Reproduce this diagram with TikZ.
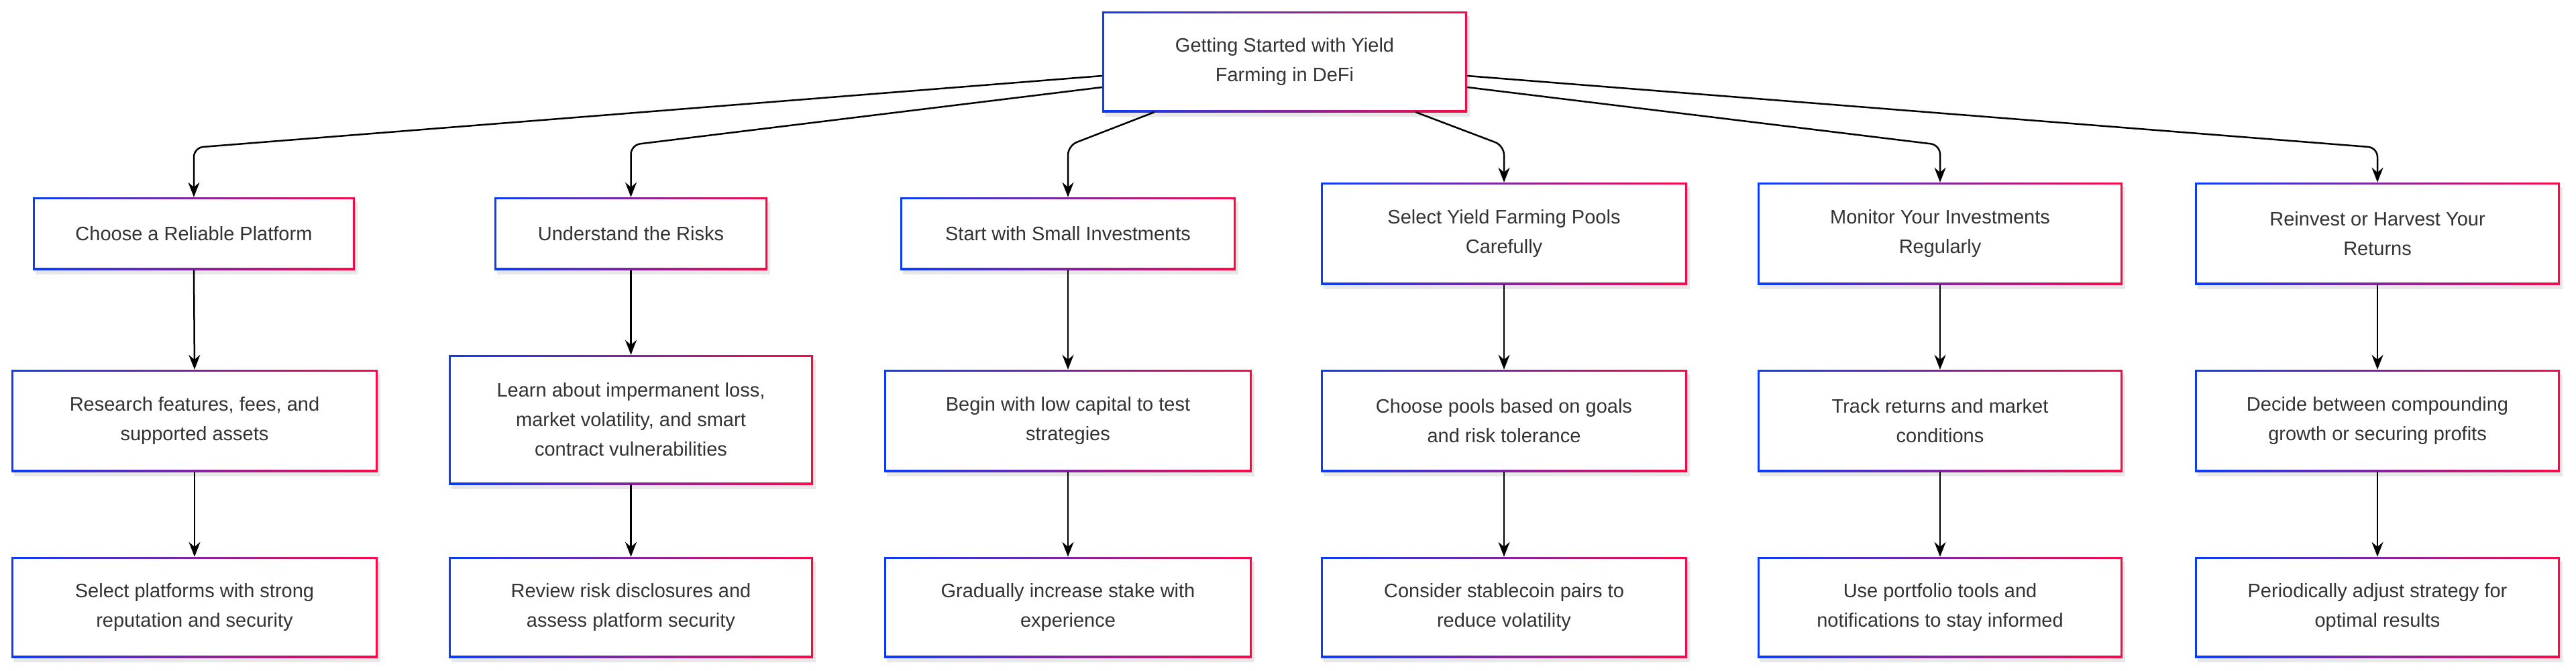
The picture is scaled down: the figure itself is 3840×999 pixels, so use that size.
\documentclass[tikz,border=0pt]{standalone}
\usepackage{fontspec}
\setmainfont{Liberation Sans}
\usetikzlibrary{arrows.meta}
\definecolor{gblue}{RGB}{10,60,250}
\definecolor{gred}{RGB}{250,10,70}
\definecolor{txtc}{RGB}{51,51,51}
\tikzset{
  txt/.style={inner sep=0pt, align=center, text=txtc, font=\fontsize{29}{44}\selectfont},
  arr/.style={line width=2.5pt, draw=black, rounded corners=14pt, -{Stealth[length=22pt,width=17pt]}},
}
\newcommand\gbox[6]{%
  \fill[black!9] ({#2+4},{#3+7}) rectangle ({#4+4},{#5+7});
  \shade[left color=gblue,right color=gred] ({#2},{#3}) rectangle ({#4},{#5});
  \fill[white] ({#2+2.7},{#3+2.7}) rectangle ({#4-2.7},{#5-2.7});
  \node[txt, minimum width={(#4)-(#2)}, minimum height={(#5)-(#3)}] (#1) at ({(#2+#4)/2},{(#3+#5)/2}) {#6};}
\begin{document}
\begin{tikzpicture}[x=1pt,y=-1pt]
\useasboundingbox[fill=white] (0,0) rectangle (3840,999);
\gbox{top}{1643}{17}{2187}{167}{Getting Started with Yield\\Farming in DeFi}
% row 1
\gbox{a1}{49}{294}{529}{402}{Choose a Reliable Platform}
\gbox{b1}{737}{294}{1144}{402}{Understand the Risks}
\gbox{c1}{1342}{294}{1842}{402}{Start with Small Investments}
\gbox{d1}{1969}{272}{2515}{424}{Select Yield Farming Pools\\Carefully}
\gbox{e1}{2620}{272}{3164}{424}{Monitor Your Investments\\Regularly}
\gbox{f1}{3272}{272}{3816}{424}{Reinvest or Harvest Your\\Returns}
% row 2
\gbox{a2}{17}{551}{563}{703}{Research features, fees, and\\supported assets}
\gbox{b2}{669}{529}{1212}{722}{Learn about impermanent loss,\\market volatility, and smart\\contract vulnerabilities}
\gbox{c2}{1318}{551}{1866}{703}{Begin with low capital to test\\strategies}
\gbox{d2}{1969}{551}{2515}{703}{Choose pools based on goals\\and risk tolerance}
\gbox{e2}{2620}{551}{3164}{703}{Track returns and market\\conditions}
\gbox{f2}{3272}{551}{3816}{703}{Decide between compounding\\growth or securing profits}
% row 3
\gbox{a3}{17}{830}{563}{980}{Select platforms with strong\\reputation and security}
\gbox{b3}{669}{830}{1212}{980}{Review risk disclosures and\\assess platform security}
\gbox{c3}{1318}{830}{1866}{980}{Gradually increase stake with\\experience}
\gbox{d3}{1969}{830}{2515}{980}{Consider stablecoin pairs to\\reduce volatility}
\gbox{e3}{2620}{830}{3164}{980}{Use portfolio tools and\\notifications to stay informed}
\gbox{f3}{3272}{830}{3816}{980}{Periodically adjust strategy for\\optimal results}
% start points
\coordinate (s1) at (1643,113);
\coordinate (s2) at (1643,130);
\coordinate (s3) at (1721,167);
\coordinate (s4) at (2110,167);
\coordinate (s5) at (2187,130);
\coordinate (s6) at (2187,113);
\draw[arr] (s1) -- (a1.north |- 0,220) -- (a1.north);
\draw[arr] (s2) -- (b1.north |- 0,216) -- (b1.north);
\draw[arr] (s3) -- (c1.north |- 0,217) -- (c1.north);
\draw[arr] (s4) -- (d1.north |- 0,217) -- (d1.north);
\draw[arr] (s5) -- (e1.north |- 0,216) -- (e1.north);
\draw[arr] (s6) -- (f1.north |- 0,220) -- (f1.north);
\foreach \c in {a,b,c,d,e,f}{
  \draw[arr] (\c1.south) -- (\c2.north);
  \draw[arr] (\c2.south) -- (\c3.north);
}
\end{tikzpicture}
\end{document}
